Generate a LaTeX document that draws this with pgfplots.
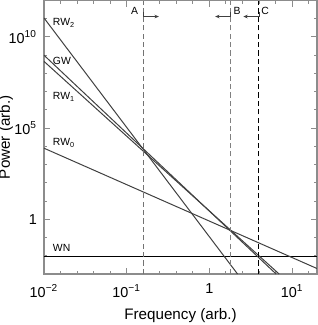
\documentclass[border=0pt]{standalone}
\usepackage{fontspec}
\setmainfont{Liberation Sans}
\usepackage{pgfplots}
\pgfplotsset{compat=1.18}
\usetikzlibrary{arrows.meta}
\definecolor{ln}{HTML}{404040}
\definecolor{ax}{HTML}{8C8C8C}
\begin{document}
\begin{tikzpicture}
\begin{axis}[
  xmode=log, ymode=log,
  scale only axis, width=136.5pt, height=136.75pt,
  xmin=0.01, xmax=20, ymin=1e-3, ymax=1e12,
  xtick={0.01,0.1,1,10},
  xticklabels={10\textsuperscript{−2},10\textsuperscript{−1},1,10\textsuperscript{1}},
  ytick={1,1e5,1e10},
  yticklabels={1,10\textsuperscript{5},10\textsuperscript{10}},
  minor xtick={0.015849,0.025119,0.039811,0.063096,0.15849,0.25119,0.39811,0.63096,1.5849,2.5119,3.9811,6.3096,15.849},
  minor ytick={1e-2,1e-1,1e1,1e2,1e3,1e4,1e6,1e7,1e8,1e9,1e11},
  tick align=inside, major tick length=3pt, minor tick length=1.6pt,
  axis line style={ax, line width=0.7pt},
  every tick/.style={ax, line width=0.5pt},
  ticklabel style={font=\fontsize{7.2}{8}\selectfont},
  xticklabel style={yshift=-1.5pt},
  xlabel={Frequency (arb.)}, ylabel={Power (arb.)},
  label style={font=\fontsize{7.6}{9}\selectfont},
  xlabel style={at={(axis description cs:0.5,0)}, anchor=center, yshift=-21pt},
  ylabel style={at={(axis description cs:0,0.5)}, anchor=center, rotate=0, yshift=19pt},
]
% WN
\addplot[black, line width=0.5pt] coordinates {(0.01,0.0089) (20,0.0089)};
% RW0
\addplot[ln, line width=0.5pt] coordinates {(0.01,7943) (20,0.0020)};
% RW1
\addplot[ln, line width=0.5pt] coordinates {(0.01,4.57e8) (6.97,1e-3)};
% GW
\addplot[ln, line width=0.5pt] coordinates {(0.01,1.0e9) (6.41,1e-3)};
% RW2
\addplot[ln, line width=0.5pt] coordinates {(0.01,1.1e11) (2.19,1e-3)};
% dashed verticals
\addplot[gray!90!black, line width=0.5pt, dash pattern=on 2.6pt off 1.6pt] coordinates {(0.15849,1e-3) (0.15849,1e12)};
\addplot[gray, line width=0.5pt, dash pattern=on 2.6pt off 1.6pt] coordinates {(1.82,1e-3) (1.82,1e12)};
\addplot[black, line width=0.5pt, dash pattern=on 2.6pt off 1.6pt] coordinates {(3.98,1e-3) (3.98,1e12)};
% arrows
\draw[ln, line width=0.45pt, -{Stealth[length=2.2pt,width=1.8pt]}] (axis cs:0.15849,2.45e11) -- (axis cs:0.15849,1.32e11) -- (axis cs:0.245,1.32e11);
\draw[ln, line width=0.45pt, -{Stealth[length=2.2pt,width=1.8pt]}] (axis cs:1.82,2.45e11) -- (axis cs:1.82,1.32e11) -- (axis cs:1.175,1.32e11);
\draw[ln, line width=0.45pt, -{Stealth[length=2.2pt,width=1.8pt]}] (axis cs:3.98,2.45e11) -- (axis cs:3.98,1.32e11) -- (axis cs:2.57,1.32e11);
% letters
\node[font=\fontsize{5.2}{6}\selectfont] at (axis cs:0.125,2.7e11) {A};
\node[font=\fontsize{5.2}{6}\selectfont] at (axis cs:2.17,2.7e11) {B};
\node[font=\fontsize{5.2}{6}\selectfont] at (axis cs:4.73,2.7e11) {C};
% line labels
\node[anchor=west, inner sep=0pt, font=\fontsize{5.2}{6}\selectfont] at (axis cs:0.0127,6.0e10) {RW\textsubscript{2}};
\node[anchor=west, inner sep=0pt, font=\fontsize{5.2}{6}\selectfont] at (axis cs:0.0127,5.0e8) {GW};
\node[anchor=west, inner sep=0pt, font=\fontsize{5.2}{6}\selectfont] at (axis cs:0.0127,5.2e6) {RW\textsubscript{1}};
\node[anchor=west, inner sep=0pt, font=\fontsize{5.2}{6}\selectfont] at (axis cs:0.0127,1.6e4) {RW\textsubscript{0}};
\node[anchor=west, inner sep=0pt, font=\fontsize{5.2}{6}\selectfont] at (axis cs:0.0127,2.7e-2) {WN};
\end{axis}
\pgfresetboundingbox
\path ([shift={(-22pt,-25.5pt)}]current axis.south west) rectangle ([shift={(0.5pt,0.25pt)}]current axis.north east);
\end{tikzpicture}
\end{document}
